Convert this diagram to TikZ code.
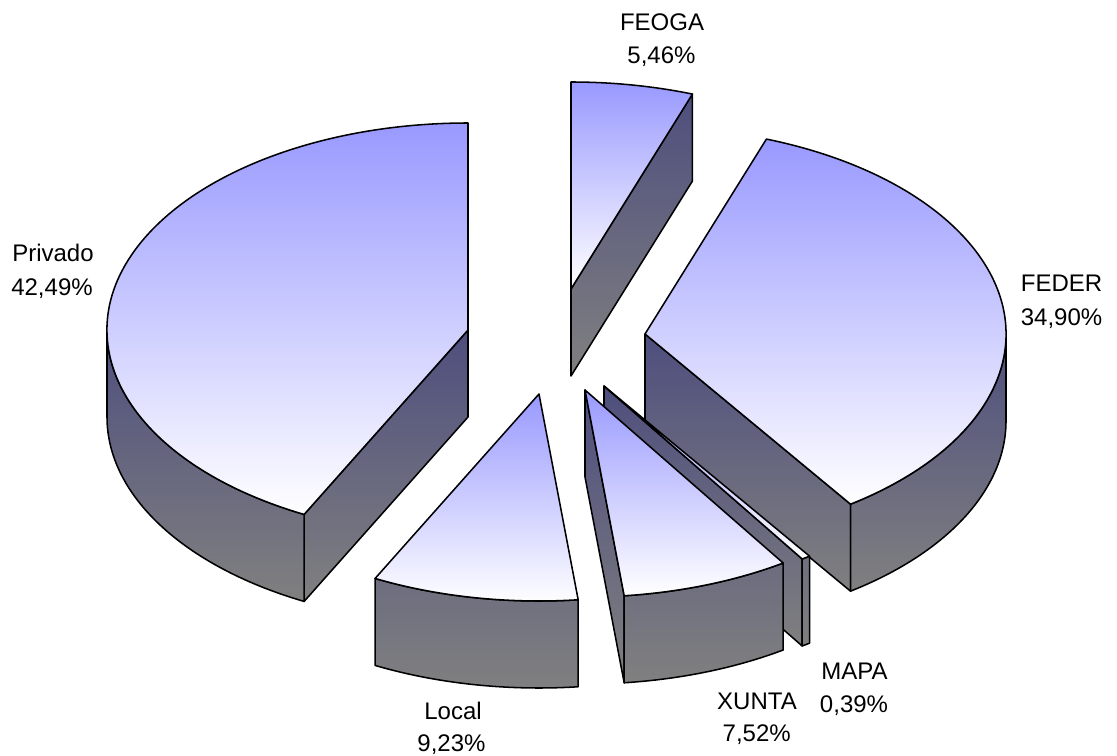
\documentclass[tikz,border=0pt]{standalone}
\usepackage{fontspec}
\setmainfont{Liberation Sans}
\definecolor{topblue}{RGB}{153,153,255}
\definecolor{sidetop}{RGB}{78,78,126}
\definecolor{sidebot}{RGB}{128,128,128}
\tikzset{
  topface/.style={draw=black, line width=1.15pt, line join=round, top color=topblue, bottom color=white},
  sideface/.style={draw=black, line width=1.15pt, line join=round, top color=sidetop, bottom color=sidebot},
  lbl/.style={anchor=base, font=\fontsize{18}{22}\selectfont, inner sep=0pt}
}
\begin{document}
\begin{tikzpicture}[x=0.75pt,y=-0.75pt]
\useasboundingbox (0,0) rectangle (1117,756);
\coordinate (feoga) at (571,289);
\coordinate (feder) at (645,334);
\coordinate (mapa) at (604,386);
\coordinate (xunta) at (585,390);
\coordinate (local) at (539,394);
\coordinate (privado) at (468,330);

% FEOGA
\path[sideface] (feoga) -- ++(0,87) -- ++(-70.344:361 and 207) -- ++(0,-87) -- cycle;
\path[topface] (feoga) -- ++(-90:361 and 207) arc[start angle=-90,end angle=-70.344,x radius=361,y radius=207] -- cycle;

% FEDER
\path[sideface] (feder) -- ++(0,87) -- ++(55.296:361 and 207) -- ++(0,-87) -- cycle;
\path[sideface] (feder) ++(0:361 and 207) arc[start angle=0,end angle=55.296,x radius=361,y radius=207] -- ++(0,87) arc[start angle=55.296,end angle=0,x radius=361,y radius=207] -- cycle;
\path[topface] (feder) -- ++(-70.344:361 and 207) arc[start angle=-70.344,end angle=55.296,x radius=361,y radius=207] -- cycle;

% Privado
\path[sideface] (privado) -- ++(0,87) -- ++(117:361 and 207) -- ++(0,-87) -- cycle;
\path[sideface] (privado) ++(117:361 and 207) arc[start angle=117,end angle=180,x radius=361,y radius=207] -- ++(0,87) arc[start angle=180,end angle=117,x radius=361,y radius=207] -- cycle;
\path[topface] (privado) -- ++(117:361 and 207) arc[start angle=117,end angle=270,x radius=361,y radius=207] -- cycle;

% MAPA
\path[sideface] (mapa) -- ++(0,87) -- ++(56.7:361 and 207) -- ++(0,-87) -- cycle;
\path[sideface] (mapa) ++(55.296:361 and 207) arc[start angle=55.296,end angle=56.7,x radius=361,y radius=207] -- ++(0,87) arc[start angle=56.7,end angle=55.296,x radius=361,y radius=207] -- cycle;
\path[topface] (mapa) -- ++(55.296:361 and 207) arc[start angle=55.296,end angle=56.7,x radius=361,y radius=207] -- cycle;

% XUNTA
\path[sideface] (xunta) -- ++(0,87) -- ++(83.772:361 and 207) -- ++(0,-87) -- cycle;
\path[sideface] (xunta) ++(56.7:361 and 207) arc[start angle=56.7,end angle=83.772,x radius=361,y radius=207] -- ++(0,87) arc[start angle=83.772,end angle=56.7,x radius=361,y radius=207] -- cycle;
\path[topface] (xunta) -- ++(56.7:361 and 207) arc[start angle=56.7,end angle=83.772,x radius=361,y radius=207] -- cycle;

% Local
\path[sideface] (local) ++(83.772:361 and 207) arc[start angle=83.772,end angle=117,x radius=361,y radius=207] -- ++(0,87) arc[start angle=117,end angle=83.772,x radius=361,y radius=207] -- cycle;
\path[topface] (local) -- ++(83.772:361 and 207) arc[start angle=83.772,end angle=117,x radius=361,y radius=207] -- cycle;

% labels
\node[lbl] (lfeoga1) at (662,30.7) {FEOGA};
\node[lbl] (lfeoga2) at (661.5,63.3) {5,46\%};
\node[lbl] (lfeder1) at (1061.5,291.7) {FEDER};
\node[lbl] (lfeder2) at (1061.5,325) {34,90\%};
\node[lbl] (lpriv1) at (53,261.7) {Privado};
\node[lbl] (lpriv2) at (52,295) {42,49\%};
\node[lbl] (lmapa1) at (854.5,679.3) {MAPA};
\node[lbl] (lmapa2) at (854,712.7) {0,39\%};
\node[lbl] (lxunta1) at (757,709.3) {XUNTA};
\node[lbl] (lxunta2) at (756.7,741.7) {7,52\%};
\node[lbl] (llocal1) at (453,719) {Local};
\node[lbl] (llocal2) at (451.5,751) {9,23\%};
\end{tikzpicture}
\end{document}
